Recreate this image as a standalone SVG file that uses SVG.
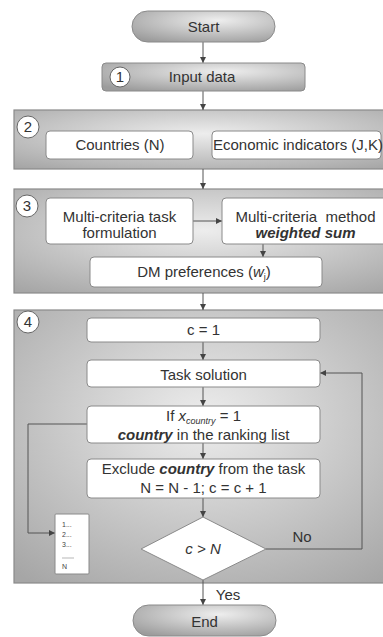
<svg xmlns="http://www.w3.org/2000/svg" width="383" height="637" viewBox="0 0 383 637">
<defs>
<radialGradient id="gPanel" cx="0.5" cy="0.4" r="0.75">
<stop offset="0" stop-color="#ededed"/>
<stop offset="1" stop-color="#a6a6a6"/>
</radialGradient>
<radialGradient id="gPill" cx="0.6" cy="0.3" r="0.8">
<stop offset="0" stop-color="#eeeeee"/>
<stop offset="1" stop-color="#9c9c9c"/>
</radialGradient>
<marker id="arr" viewBox="0 0 6 6" refX="6" refY="3" markerWidth="6" markerHeight="6" orient="auto" markerUnits="userSpaceOnUse">
<path d="M0,0 L6,3 L0,6 z" fill="#444"/>
</marker>
</defs>
<style>
.panel{fill:url(#gPanel);stroke:#8a8a8a;stroke-width:1.2}
.box{fill:#fff;stroke:#8a8a8a;stroke-width:1}
.pill{fill:url(#gPill);stroke:#8a8a8a;stroke-width:1}
.num{fill:#fff;stroke:#666;stroke-width:1}
.t{font-family:"Liberation Sans",Arial,sans-serif;font-size:15px;fill:#333;text-anchor:middle}
.n{font-family:"Liberation Sans",Arial,sans-serif;font-size:15px;fill:#333;text-anchor:middle}
.s{font-family:"Liberation Sans",Arial,sans-serif;font-size:7px;fill:#444}
.c{fill:none;stroke:#555;stroke-width:1}
.bi{font-weight:bold;font-style:italic}
.i{font-style:italic}
</style>

<g id="panel2"><rect class="panel" x="14" y="110" width="380" height="59"/></g>
<g id="panel3"><rect class="panel" x="14" y="189" width="380" height="104"/></g>
<g id="panel4"><rect class="panel" x="14" y="310" width="380" height="273"/></g>

<g id="connectors">
<line class="c" x1="203" y1="42" x2="203" y2="63" marker-end="url(#arr)"/>
<line class="c" x1="203" y1="91" x2="203" y2="110" marker-end="url(#arr)"/>
<line class="c" x1="203" y1="169" x2="203" y2="189" marker-end="url(#arr)"/>
<line class="c" x1="193" y1="221" x2="222" y2="221" marker-end="url(#arr)"/>
<line class="c" x1="263" y1="244" x2="263" y2="257" marker-end="url(#arr)"/>
<line class="c" x1="203" y1="293" x2="203" y2="310" marker-end="url(#arr)"/>
<line class="c" x1="203" y1="342" x2="203" y2="360" marker-end="url(#arr)"/>
<line class="c" x1="203" y1="387" x2="203" y2="406" marker-end="url(#arr)"/>
<line class="c" x1="203" y1="443" x2="203" y2="459" marker-end="url(#arr)"/>
<line class="c" x1="203" y1="498" x2="203" y2="517" marker-end="url(#arr)"/>
<polyline class="c" points="266,549 362,549 362,373 320,373" marker-end="url(#arr)"/>
<polyline class="c" points="87,424 28,424 28,533 55,533" marker-end="url(#arr)"/>
<line class="c" x1="203" y1="580" x2="203" y2="605" marker-end="url(#arr)"/>
<text class="t" x="302" y="542">No</text>
<text class="t" x="228" y="600">Yes</text>
</g>

<g id="start"><rect class="pill" x="132" y="11" width="143" height="31" rx="15.5"/><text class="t" x="203.5" y="32">Start</text></g>

<g id="input"><rect class="pill" x="102" y="63" width="203" height="28" rx="4"/>
<circle class="num" cx="120" cy="77" r="10"/><text class="n" x="120" y="82">1</text>
<text class="t" x="202" y="82">Input data</text></g>

<g id="num2"><circle class="num" cx="28" cy="127" r="11"/><text class="n" x="28" y="132">2</text></g>
<g id="countries"><rect class="box" x="46" y="131" width="147" height="28" rx="4"/><text class="t" x="120" y="150">Countries (N)</text></g>
<g id="indicators"><rect class="box" x="212" y="131" width="169" height="28" rx="4"/><text class="t" x="298" y="150">Economic indicators (J,K)</text></g>

<g id="num3"><circle class="num" cx="27" cy="206" r="11"/><text class="n" x="27" y="211">3</text></g>
<g id="formulation"><rect class="box" x="46" y="198" width="147" height="46" rx="4"/><text class="t" x="119.5" y="222">Multi-criteria task</text><text class="t" x="119.5" y="238">formulation</text></g>
<g id="method"><rect class="box" x="222" y="198" width="170" height="46" rx="4"/><text class="t" x="305.5" y="222" xml:space="preserve">Multi-criteria  method</text><text class="t bi" x="305.5" y="238">weighted sum</text></g>
<g id="dm"><rect class="box" x="90" y="257" width="232" height="30" rx="4"/><text class="t" x="204" y="277">DM preferences (<tspan class="i">w</tspan><tspan font-size="9" dy="3">j</tspan><tspan dy="-3">)</tspan></text></g>

<g id="num4"><circle class="num" cx="28" cy="322" r="11"/><text class="n" x="28" y="327">4</text></g>
<g id="c1"><rect class="box" x="87" y="318" width="233" height="24" rx="4"/><text class="t" x="203.5" y="335">c = 1</text></g>
<g id="task"><rect class="box" x="87" y="360" width="233" height="27" rx="4"/><text class="t" x="203.5" y="380">Task solution</text></g>
<g id="if"><rect class="box" x="87" y="406" width="233" height="37" rx="4"/><text class="t" x="203.5" y="421">If <tspan class="i">x</tspan><tspan class="i" font-size="9" dy="3">country</tspan><tspan dy="-3"> = 1</tspan></text><text class="t" x="203.5" y="440"><tspan class="bi">country</tspan> in the ranking list</text></g>
<g id="exclude"><rect class="box" x="87" y="459" width="233" height="39" rx="4"/><text class="t" x="203.5" y="474">Exclude <tspan class="bi">country</tspan> from the task</text><text class="t" x="203.5" y="493">N = N - 1; c = c + 1</text></g>
<g id="decision"><polygon class="box" points="203,517 266,549 203,580 141,549"/><text class="t i" x="203" y="554">c &gt; N</text></g>
<g id="list"><rect class="box" x="55" y="514" width="34" height="60" rx="1"/>
<text class="s" x="62" y="527">1...</text><text class="s" x="62" y="537">2...</text><text class="s" x="62" y="547">3...</text>
<line x1="62" y1="558" x2="74" y2="558" stroke="#888" stroke-width="0.6"/>
<text class="s" x="62" y="569">N</text></g>

<g id="end"><rect class="pill" x="133" y="605" width="143" height="31" rx="15.5"/><text class="t" x="204.5" y="627">End</text></g>
</svg>
